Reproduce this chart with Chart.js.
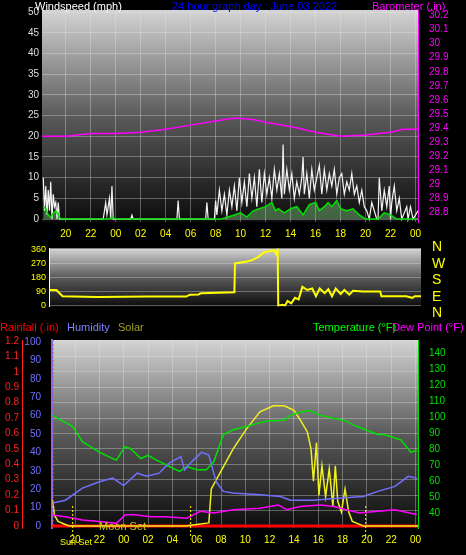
<!DOCTYPE html>
<html>
<head>
<meta charset="UTF-8">
<script src="https://cdn.jsdelivr.net/npm/chart.js"></script>
<style>
body{margin:0;background:#000;width:466px;height:555px;overflow:hidden;font-family:"Liberation Sans",Arial,sans-serif}
.box{position:absolute;left:0;width:466px}
.t{position:absolute;font-size:11px;white-space:nowrap;line-height:12px}
</style>
</head>
<body>
<div class="box" style="top:0;height:245px"><canvas id="top"></canvas></div>
<div class="box" style="top:240px;height:75px"><canvas id="mid"></canvas></div>
<div class="box" style="top:330px;height:225px"><canvas id="bot"></canvas></div>

<div class="t" style="left:35px;top:0;color:#fff">Windspeed (mph)</div>
<div class="t" style="left:172px;top:0;color:#0000ff">24 hour graph day : June 03 2022</div>
<div class="t" style="left:372px;top:0;color:#ff00ff">Barometer (.in)</div>
<div class="t" style="left:432px;top:238px;color:#ffff00;font-size:14px;line-height:16.5px">N<br>W<br>S<br>E<br>N</div>
<div class="t" style="left:0;top:321px;color:#ff0000">Rainfall (.in)</div>
<div class="t" style="left:67px;top:321px;color:#8080ff">Humidity</div>
<div class="t" style="left:118px;top:321px;color:#a0a020">Solar</div>
<div class="t" style="left:313px;top:321px;color:#00ff00">Temperature (°F)</div>
<div class="t" style="left:392px;top:321px;color:#ff00ff">Dew Point (°F)</div>
<div class="t" style="left:99px;top:520px;color:#c8c820">Moon Set</div>
<div class="t" style="left:60px;top:536px;color:#ffff00;font-size:9px">Sun Set</div>

<script>
// hours relative to midnight June 03
const xMin = -5.9, xMax = 24.2;
const hourTicks = [-4, -2, 0, 2, 4, 6, 8, 10, 12, 14, 16, 18, 20, 22, 24];

// top chart: wind and barometer
const windTicks = [0, 5, 10, 15, 20, 25, 30, 35, 40, 45, 50];
const baroTicks = [28.8, 28.9, 29, 29.1, 29.2, 29.3, 29.4, 29.5, 29.6, 29.7, 29.8, 29.9, 30, 30.1, 30.2];
const gustHours = [-5.8,-5.7,-5.6,-5.5,-5.4,-5.3,-5.2,-5.1,-5.0,-4.9,-4.8,-4.7,-4.6,-4.5,-4.4,-1.0,-0.8,-0.7,-0.5,-0.4,-0.3,-0.2,-0.1,1.2,1.3,1.4,4.9,5.0,5.1,7.2,7.3,7.4,7.9,8.0,8.1,8.3,8.5,8.7,8.9,9.1,9.3,9.5,9.7,9.9,10.1,10.3,10.5,10.7,10.9,11.1,11.3,11.5,11.7,11.9,12.1,12.3,12.5,12.7,12.9,13.1,13.3,13.4,13.5,13.7,13.9,14.1,14.3,14.5,14.7,14.9,15.0,15.1,15.3,15.5,15.7,15.9,16.1,16.3,16.5,16.7,16.9,17.1,17.3,17.5,17.7,17.9,18.1,18.3,18.5,18.7,18.9,19.1,19.3,19.5,19.7,19.9,20.1,20.3,20.5,20.9,21.0,21.1,21.3,21.5,21.7,21.9,22.0,22.1,22.3,22.5,22.7,22.9,23.3,23.4,23.6,23.8,24.2];
const gustVals  = [10,2,8,1,7,2,9,0,6,3,4,0,4,0,0,0,4,1,5,0,8,0,0,0,1,0,0,4.5,0,0,4,0,0,4.5,1,7,2,6,1,7,3,8,2,10,4,9,3,11,5,10,3,12,4,11,6,10,5,12,7,11,5,18,6,12,7,11,5,9,6,10,15,6,11,5,12,7,10,13,6,12,7,11,8,12,6,10,11,6,9,7,11,6,8,4,7,3,2,0,4,0,0,10,2,7,3,8,0,4,8,2,5,0,3,0,3,0,2,0,0];
const avgHours = [-5.8,-5.6,-5.4,-5.2,-5.0,-4.8,-4.6,-4.4,-4.2,-0.6,-0.3,0.0,8.4,9.0,9.5,10.0,10.5,11.0,11.5,12.0,12.5,12.8,13.0,13.5,14.0,14.5,15.0,15.5,16.0,16.3,16.7,17.0,17.3,17.7,18.0,18.5,19.0,19.5,20.0,21.0,21.5,22.0,22.5,24.2];
const avgVals  = [3,2.5,1,0.5,1.5,2,1,0,0,0,0.5,0,0,0.5,1,1.5,0.5,2,2.5,3,4,2,2.5,1.5,2.5,3,1,3.5,4,2,3,4,3,4.5,2.5,2,2.5,1,0,0,1.5,1,0,0];
const baroHours = [-5.9,-4,-2,0,2,4,6,8,9.5,11,12,14,16,18,20,22,23,24.2];
const baroVals  = [29.34,29.34,29.36,29.36,29.37,29.39,29.42,29.45,29.47,29.46,29.44,29.41,29.37,29.34,29.35,29.37,29.39,29.39];

// middle chart: wind direction
const dirTicks = [0, 90, 180, 270, 360];
const dirHours = [-5.9,-5.3,-4.8,-2,2,5.2,5.5,6.2,6.4,9.1,9.15,10,10.5,11,11.5,12.3,12.5,12.6,12.65,13,13.2,13.4,13.7,14,14.3,14.6,15,15.4,15.7,16,16.4,16.7,17,17.3,17.7,18,18.4,18.7,19.5,20.9,21,23,23.5,23.7,24.2];
const dirVals  = [100,100,60,55,58,58,70,72,80,85,270,280,290,310,340,355,330,355,0,5,0,30,15,50,40,120,100,110,60,110,80,105,60,110,75,100,70,95,90,90,60,60,50,60,60];

// bottom chart
const humTicks = [0,10,20,30,40,50,60,70,80,90,100];
const rainTicks = [0,0.1,0.2,0.3,0.4,0.5,0.6,0.7,0.8,0.9,1,1.1,1.2];
const tempTicks = [40,50,60,70,80,90,100,110,120,130,140];
const tempHours = [-5.85,-4.2,-3.4,-2,-0.9,-0.6,0.1,0.6,1.4,2,2.7,3.5,4.6,5.2,6,6.8,7.4,8.2,9,10.1,11,11.8,13.2,13.7,14.5,15.3,16.2,17.3,18.1,19.2,20.9,21.4,22.8,23.6,24.1];
const tempVals  = [101,94,84.6,78,74,73,81.5,80,74,76,73,70,66,69,67,67,72,89,92,94,96,97.5,98,101,103,104,101,99,98,94,89,89,85.6,78,79];
const humHours = [-5.85,-4.8,-3.4,-2,-0.9,0,1.1,1.9,2.9,3.7,4.7,5,5.6,6.4,7,7.6,8.2,9,11.2,12.9,13.7,15.6,17.3,19.7,20.9,22.3,23.4,24.1];
const humVals  = [12.5,14,20.6,24,26,22,28.7,27,28.7,34,37.7,30.5,35,40,38.6,24,18.8,17.9,17,16,14,14,15,16,18.8,21.5,27,26];
const dewHours = [-5.85,-4.8,-3.4,-2,-0.6,0.1,0.8,2.2,3.5,5.2,6.3,7.4,9,11.2,12.7,13.4,14.5,16.2,17.3,18.3,19.4,20.9,22.3,24.1];
const dewVals  = [38.7,37.7,35.6,34.6,33.5,38.7,39,37.7,37.7,36.7,41,40,42,43,45,42,44,45,44,42,40,41,42,39];
const solarHours = [-5.85,-5.7,-5.4,-4.8,-4.5,5.1,6,7,7.2,9,10.1,11.2,12.3,13.2,14,14.5,15.1,15.4,15.6,15.85,16.05,16.3,16.6,16.9,17.2,17.4,17.6,17.9,18.2,18.5,18.8,19.1,19.7,24.2];
const solarVals  = [0.17,0.07,0.03,0.01,0,0,0.01,0.02,0.24,0.5,0.63,0.74,0.78,0.78,0.75,0.69,0.61,0.5,0.29,0.54,0.2,0.39,0.19,0.37,0.13,0.39,0.16,0.09,0.24,0.09,0.03,0.02,0,0];
const rainHours = [-5.9, 24.2];
const rainVals  = [0, 0];
const sunEvents = [-4.2, 5.5, 19.9];

const pts = (hs, vs) => hs.map((h, i) => ({ x: h, y: vs[i] }));
const hh = v => String(((v % 24) + 24) % 24).padStart(2, '0');
const setTicks = arr => s => { s.ticks = arr.map(v => ({ value: v })); };
const fixW = w => s => { s.width = w; };
const fixH = h => s => { s.height = h; };
const grid = { color: 'rgba(230,230,230,0.35)', borderDash: [1, 2], drawTicks: false };
const fnt = { family: '"Liberation Sans", Arial, sans-serif', size: 10 };

const bgPlugin = {
    id: 'bg',
    beforeDraw(c) {
        const a = c.chartArea, ctx = c.ctx;
        const g = ctx.createLinearGradient(0, a.top, 0, a.bottom);
        g.addColorStop(0, '#d4d4d4');
        g.addColorStop(0.5, '#5a5a5a');
        g.addColorStop(1, '#0c0c0c');
        ctx.save();
        ctx.fillStyle = g;
        ctx.fillRect(a.left, a.top, a.right - a.left, a.bottom - a.top);
        ctx.restore();
    }
};

const xScale = (show, h) => ({
    type: 'linear', min: xMin, max: xMax, display: show,
    afterBuildTicks: setTicks(hourTicks), afterFit: fixH(h),
    grid: grid, border: { display: false },
    ticks: { color: '#ffff00', font: fnt, padding: 6, callback: hh, autoSkip: false, maxRotation: 0 }
});
const line = (label, data, color, axis, extra) => Object.assign({
    label, data, borderColor: color, yAxisID: axis, pointRadius: 0, borderWidth: 1.5, tension: 0
}, extra || {});
const base = { responsive: true, maintainAspectRatio: false, animation: false, plugins: { legend: { display: false }, tooltip: { enabled: false } } };

new Chart(document.getElementById('top'), {
    type: 'line',
    data: { datasets: [
        line('Barometer', pts(baroHours, baroVals), '#ff00ff', 'yb'),
        line('Wind avg', pts(avgHours, avgVals), '#00e000', 'yw', { fill: 'origin', backgroundColor: 'rgba(160,255,160,0.35)' }),
        line('Gust', pts(gustHours, gustVals), '#f4f4f4', 'yw', { borderWidth: 1.2 })
    ] },
    options: Object.assign({}, base, {
        layout: { padding: { top: 10 } },
        scales: {
            x: xScale(true, 23),
            yw: { position: 'left', min: -0.7, max: 50.5, afterBuildTicks: setTicks(windTicks), afterFit: fixW(42),
                grid: grid, border: { display: false }, ticks: { color: '#dddddd', font: fnt } },
            yb: { position: 'right', min: 28.73, max: 30.24, afterBuildTicks: setTicks(baroTicks), afterFit: fixW(48),
                grid: { display: false }, border: { color: '#ff00ff' }, ticks: { color: '#ff00ff', font: fnt, callback: v => String(+v.toFixed(1)) } }
        }
    }),
    plugins: [bgPlugin]
});

new Chart(document.getElementById('mid'), {
    type: 'line',
    data: { datasets: [ line('Direction', pts(dirHours, dirVals), '#ffff00', 'yd', { borderWidth: 2 }) ] },
    options: Object.assign({}, base, {
        layout: { padding: { top: 4, bottom: 3 } },
        scales: {
            x: xScale(false, 0),
            yd: { position: 'left', min: -6, max: 366, afterBuildTicks: setTicks(dirTicks), afterFit: fixW(49),
                grid: grid, border: { color: '#ffffff' }, ticks: { color: '#ffff00', font: { family: fnt.family, size: 9 } } },
            yr: { position: 'right', display: true, afterFit: fixW(45), grid: { display: false }, border: { display: false }, ticks: { display: false } }
        }
    }),
    plugins: [bgPlugin]
});

const sunPlugin = {
    id: 'sun',
    afterDatasetsDraw(c) {
        const ctx = c.ctx, a = c.chartArea, x = c.scales.x;
        ctx.save();
        ctx.setLineDash([2, 2]);
        ctx.strokeStyle = '#ffff00';
        sunEvents.forEach(h => {
            const px = x.getPixelForValue(h);
            ctx.beginPath(); ctx.moveTo(px, a.bottom - 22); ctx.lineTo(px, a.bottom + 10); ctx.stroke();
        });
        ctx.strokeStyle = '#ff4040';
        ctx.beginPath(); ctx.moveTo(a.left + 1, a.top); ctx.lineTo(a.left + 1, a.bottom); ctx.stroke();
        ctx.restore();
    }
};

new Chart(document.getElementById('bot'), {
    type: 'line',
    data: { datasets: [
        line('Dew Point', pts(dewHours, dewVals), '#ff00ff', 'yt'),
        line('Humidity', pts(humHours, humVals), '#7070ff', 'yh'),
        line('Temperature', pts(tempHours, tempVals), '#00e000', 'yt'),
        line('Solar', pts(solarHours, solarVals), '#f0f020', 'yr'),
        line('Rainfall', pts(rainHours, rainVals), '#ff0000', 'yr', { borderWidth: 3 })
    ] },
    options: Object.assign({}, base, {
        layout: { padding: { top: 10 } },
        scales: {
            x: xScale(true, 27),
            yh: { position: 'left', min: -1.1, max: 101.1, afterBuildTicks: setTicks(humTicks), afterFit: fixW(30),
                grid: { display: false }, border: { color: '#7070ff', width: 2 }, ticks: { color: '#7070ff', font: fnt } },
            yr: { position: 'left', min: -0.013, max: 1.206, afterBuildTicks: setTicks(rainTicks), afterFit: fixW(22),
                grid: grid, border: { color: '#ff2020' }, ticks: { color: '#ff2020', font: fnt, callback: v => String(+v.toFixed(1)) } },
            yt: { position: 'right', min: 30.6, max: 148.1, afterBuildTicks: setTicks(tempTicks), afterFit: fixW(48),
                grid: { display: false }, border: { color: '#00e000' }, ticks: { color: '#00e000', font: fnt } }
        }
    }),
    plugins: [bgPlugin, sunPlugin]
});
</script>
</body>
</html>
